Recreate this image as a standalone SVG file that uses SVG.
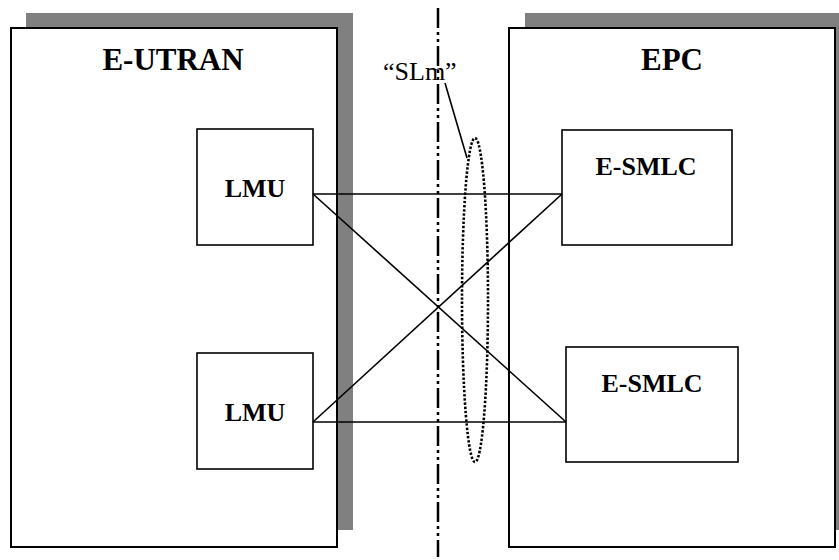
<svg xmlns="http://www.w3.org/2000/svg" width="839" height="560" viewBox="0 0 839 560">
<style>
.shadow{fill:#808080;stroke:none}
.box{fill:#fff;stroke:#000;stroke-width:2}
.node{fill:#fff;stroke:#000;stroke-width:1.6}
.title{font-family:"Liberation Serif",serif;font-weight:bold;font-size:31px;text-anchor:middle}
.lbl{font-family:"Liberation Serif",serif;font-weight:bold;font-size:26px;text-anchor:middle}
.conn{stroke:#000;stroke-width:1.6;fill:none}
</style>
<rect width="839" height="560" fill="#fff"/>
<g id="eutran">
<rect class="shadow" x="26" y="13" width="327" height="517"/>
<rect class="box" x="11" y="28" width="326" height="519"/>
<text class="title" x="173" y="70">E-UTRAN</text>
</g>
<g id="epc">
<rect class="shadow" x="525" y="13" width="330" height="517"/>
<rect class="box" x="509" y="28" width="326" height="519"/>
<text class="title" x="672" y="70">EPC</text>
</g>
<g id="lmu1">
<rect class="node" x="197" y="129" width="116" height="116"/>
<text class="lbl" x="255" y="197">LMU</text>
</g>
<g id="lmu2">
<rect class="node" x="197" y="353" width="116" height="116"/>
<text class="lbl" x="255" y="421">LMU</text>
</g>
<g id="esmlc1">
<rect class="node" x="562" y="130" width="170" height="115"/>
<text class="lbl" x="646" y="175">E-SMLC</text>
</g>
<g id="esmlc2">
<rect class="node" x="566" y="347" width="172" height="115"/>
<text class="lbl" x="652" y="392">E-SMLC</text>
</g>
<g id="connectors">
<line class="conn" x1="313" y1="194" x2="562" y2="194"/>
<line class="conn" x1="313" y1="422" x2="566" y2="422"/>
<line class="conn" x1="313" y1="194" x2="566" y2="422"/>
<line class="conn" x1="562" y1="194" x2="313" y2="422"/>
</g>
<g id="boundary">
<line x1="438" y1="8" x2="438" y2="557" stroke="#000" stroke-width="2.5" stroke-dasharray="20 4 3 4 3 4"/>
</g>
<g id="slm">
<ellipse cx="475" cy="300" rx="13" ry="162" fill="none" stroke="#000" stroke-width="2.6" stroke-dasharray="2.4 1.8"/>
<line x1="445" y1="83" x2="467" y2="158" stroke="#000" stroke-width="1.6"/>
<text x="383" y="80" font-family="'Liberation Serif',serif" font-size="26">“SLm”</text>
</g>
</svg>
